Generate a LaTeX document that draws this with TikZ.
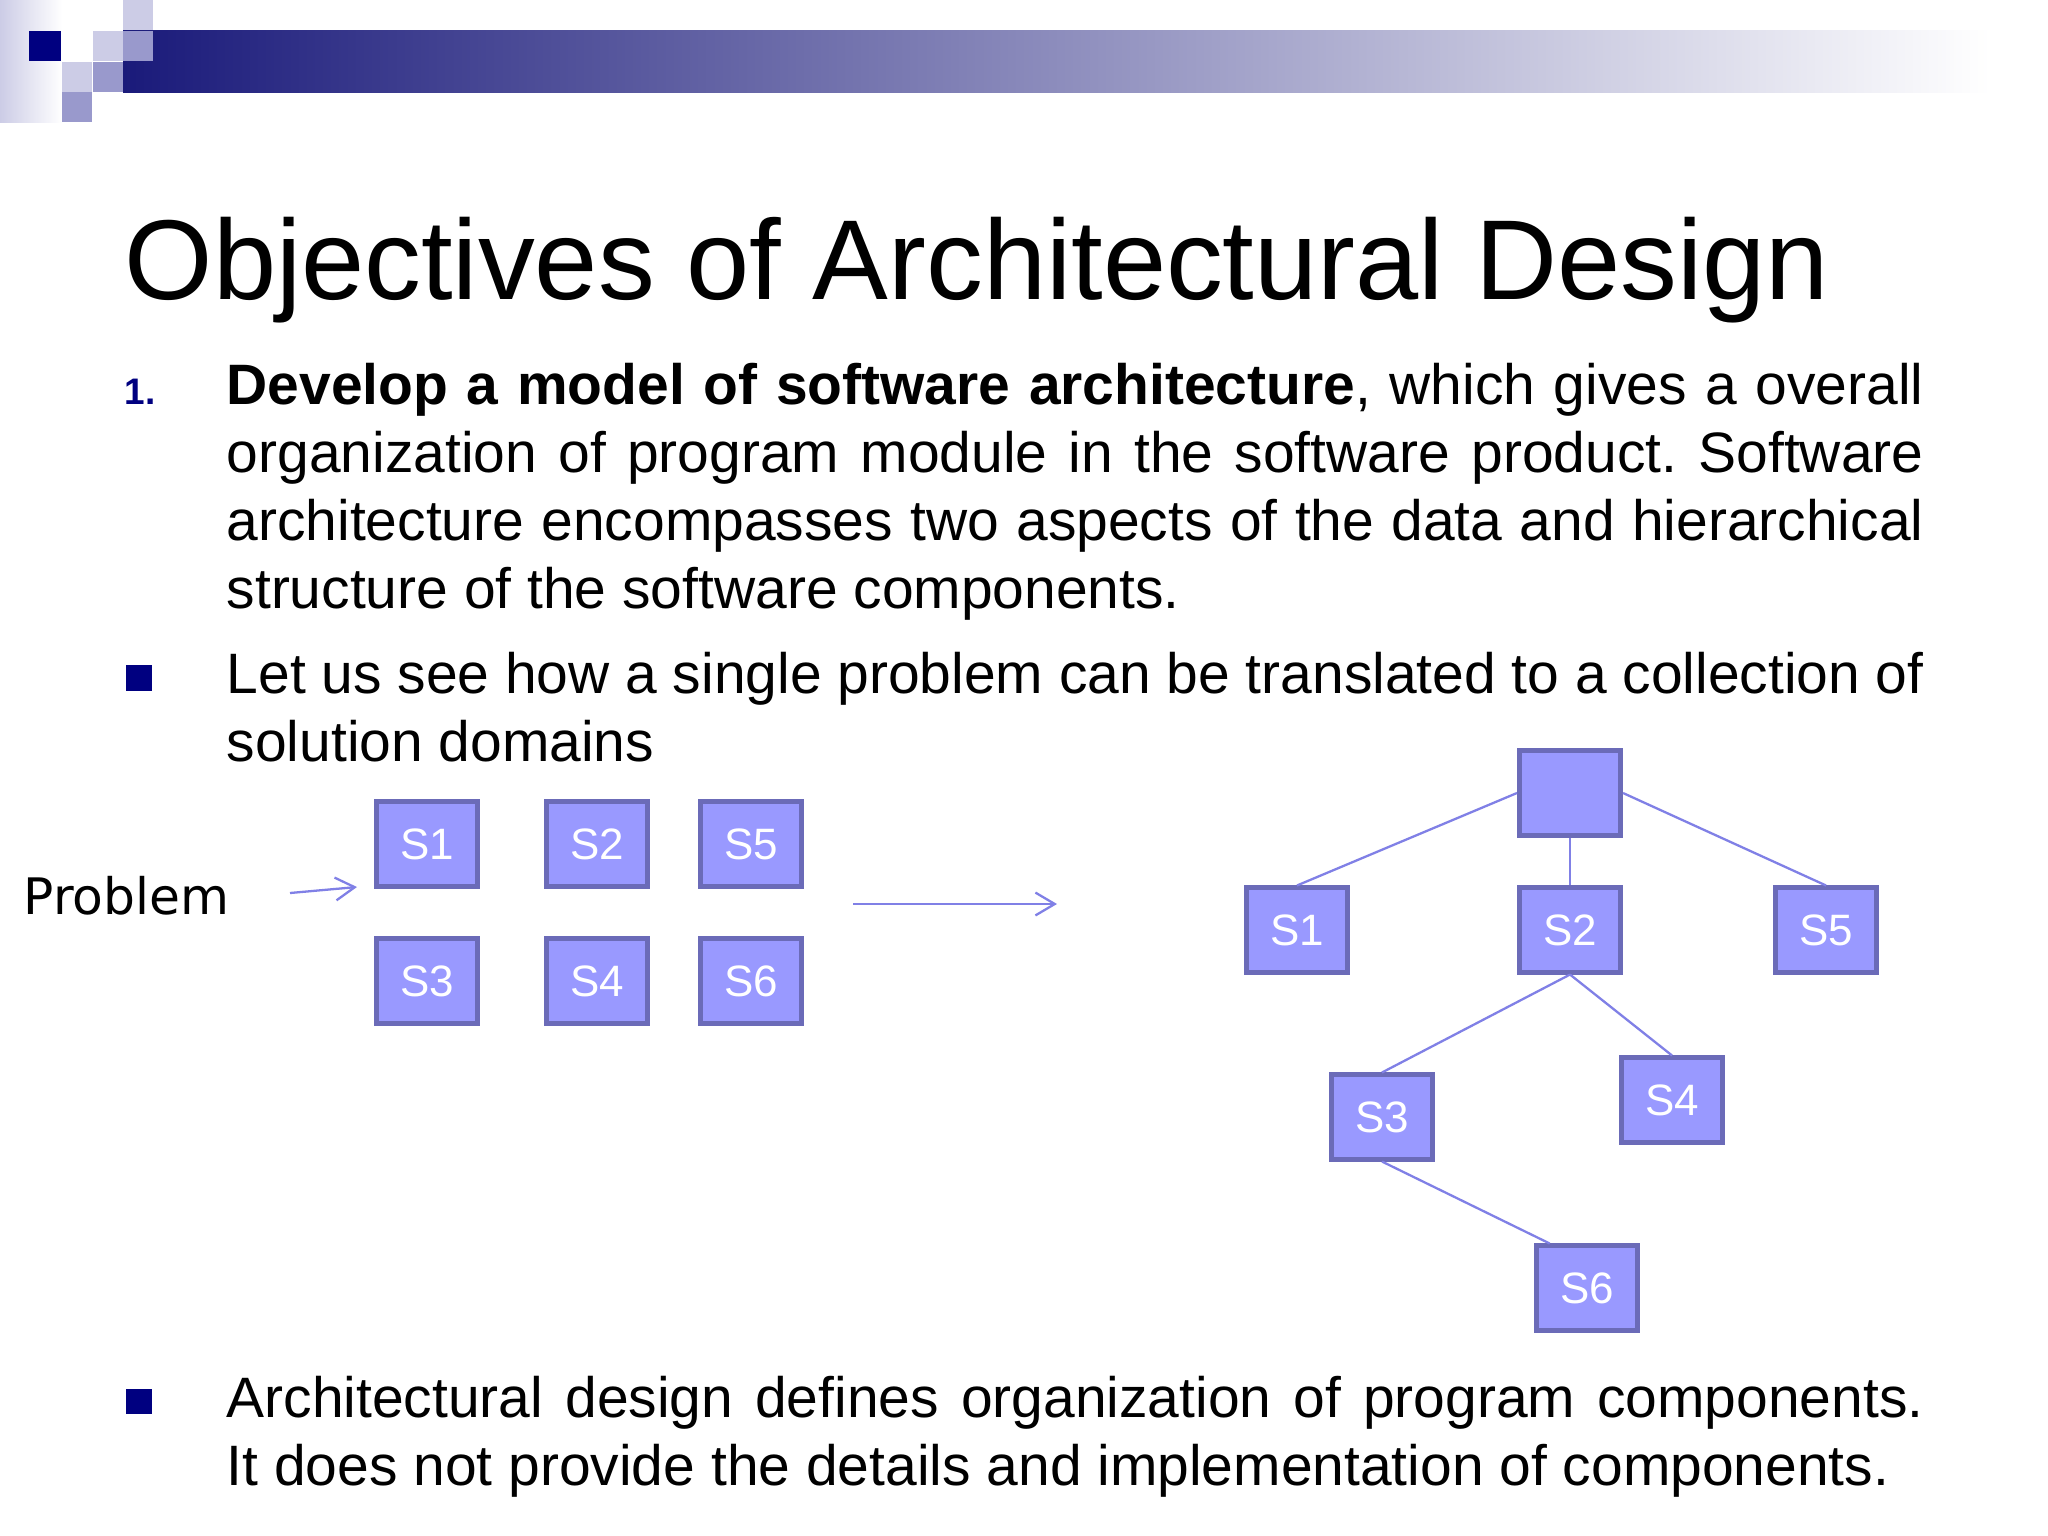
\documentclass[tikz,border=0pt]{standalone}
\usepackage{fontspec}
\setmainfont{Liberation Sans}
\newfontfamily\probfont{DejaVu Sans}
\usetikzlibrary{arrows.meta}
\frenchspacing
\definecolor{slidenavy}{RGB}{0,0,128}
\definecolor{barnavy}{RGB}{26,26,122}
\definecolor{squarelight}{RGB}{204,204,230}
\definecolor{squaremid}{RGB}{153,153,204}
\definecolor{modfill}{RGB}{153,153,255}
\definecolor{modedge}{RGB}{107,107,184}
\definecolor{linkblue}{RGB}{128,128,230}

\tikzset{
  module/.style={draw=modedge, fill=modfill, line width=1.42pt,
    minimum width=1.01cm, minimum height=0.84cm, inner sep=0pt,
    text=white, font=\fontsize{12.5}{14}\selectfont},
  link/.style={linkblue, line width=0.65pt},
  flow/.style={linkblue, line width=0.65pt, -{Straight Barb[length=5.5pt,width=6.5pt]}},
  bodytext/.style={anchor=base west, inner sep=0pt, text width=16.96cm,
    align=justify, font=\fontsize{16.2}{19.35}\selectfont},
  bulletsq/.style={fill=slidenavy}
}

\begin{document}
\begin{tikzpicture}[x=0.01cm, y=-0.01cm]
    \useasboundingbox (0,0) rectangle (2048,1536);
    \fill[white] (0,0) rectangle (2048,1536);

    % Header decoration
    \shade[left color=squarelight, right color=white] (0,0) rectangle (62,122);
    \shade[left color=barnavy, right color=white] (123,30) rectangle (1990,92);
    \fill[slidenavy] (29,31) rectangle (61,61);
    \fill[squarelight] (62,62) rectangle (92,92);
    \fill[squaremid] (62,92) rectangle (92,122);
    \fill[squarelight] (93,31) rectangle (123,61);
    \fill[squaremid] (93,62) rectangle (123,92);
    \fill[squarelight] (123,0) rectangle (153,30);
    \fill[squaremid] (123,31) rectangle (153,61);

    % Title
    \node[anchor=base west, inner sep=0pt, font=\fontsize{32.3}{38}\selectfont]
      (title) at (124,299) {Objectives of Architectural Design};

    % Text
    \node[anchor=base west, inner sep=0pt, text=slidenavy, font=\fontsize{10.5}{12}\selectfont\bfseries]
      (num1) at (124,404) {1.};
    \node[bodytext] (para1) at (226,404) {\textbf{Develop a model of software architecture}, which gives a overall\linebreak
      organization of program module in the software product. Software\linebreak
      architecture encompasses two aspects of the data and hierarchical\linebreak
      structure of the software components.};
    \fill[bulletsq] (126,665) rectangle (152,691);
    \node[bodytext] (para2) at (226,693) {Let us see how a single problem can be translated to a collection of\linebreak
      solution domains};
    \fill[bulletsq] (126,1389) rectangle (152,1414);
    \node[bodytext] (para3) at (226,1417) {Architectural design defines organization of program components.\linebreak
      It does not provide the details and implementation of components.};

    % Problem and flat modules
    \node[anchor=base west, inner sep=0pt, font=\probfont\fontsize{14.3}{17}\selectfont]
      (prob) at (23,914) {Problem};
    \coordinate (pin) at (290,893);
    \coordinate (pout) at (357,887);
    \draw[flow] (pin) -- (pout);

    \node[module] (a1) at (427,844) {S1};
    \node[module] (a2) at (597,844) {S2};
    \node[module] (a5) at (751,844) {S5};
    \node[module] (a3) at (427,981) {S3};
    \node[module] (a4) at (597,981) {S4};
    \node[module] (a6) at (751,981) {S6};

    \coordinate (min) at (853,904);
    \coordinate (mout) at (1057,904);
    \draw[flow] (min) -- (mout);

    % Hierarchy
    \node[module] (root) at (1570,793) {};
    \node[module] (t1) at (1297,930) {S1};
    \node[module] (t2) at (1570,930) {S2};
    \node[module] (t5) at (1826,930) {S5};
    \node[module] (t3) at (1382,1117) {S3};
    \node[module] (t4) at (1672,1100) {S4};
    \node[module] (t6) at (1587,1288) {S6};

    \draw[link] (root.west) -- (t1.north);
    \draw[link] (root.south) -- (t2.north);
    \draw[link] (root.east) -- (t5.north);
    \draw[link] (t2.south) -- (t3.north);
    \draw[link] (t2.south) -- (t4.north);
    \draw[link] (t3.south) -- (t6.130);
\end{tikzpicture}
\end{document}
